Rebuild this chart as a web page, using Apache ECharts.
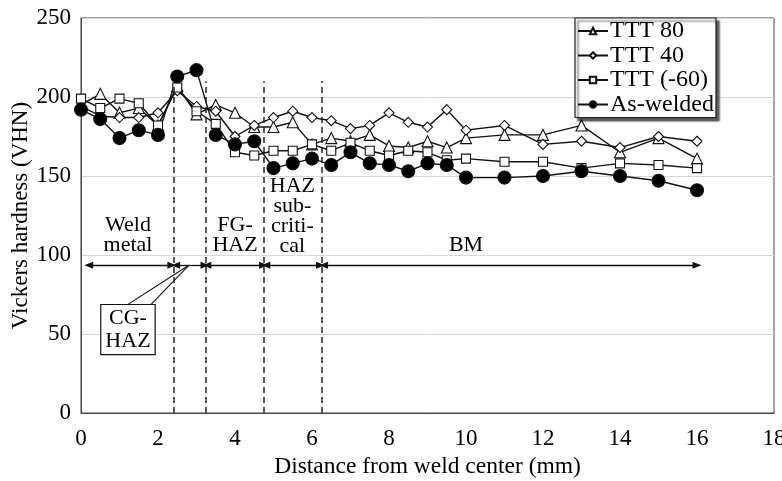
<!DOCTYPE html>
<html>
<head>
<meta charset="utf-8">
<script src="https://cdn.jsdelivr.net/npm/echarts@6/dist/echarts.min.js"></script>
<style>
  html, body { margin: 0; padding: 0; background: #fff; }
  #chart { width: 782px; height: 481px; }
</style>
</head>
<body>
<div id="chart"></div>
<script>
// Distance from the weld center (mm)
const distance = [0, 0.5, 1, 1.5, 2, 2.5, 3, 3.5, 4, 4.5, 5, 5.5, 6, 6.5, 7, 7.5, 8, 8.5, 9, 9.5, 10, 11, 12, 13, 14, 15, 16];

// Vickers hardness (VHN) per condition
const ttt80    = [195, 202, 190, 193, 182, 207, 189, 195, 190, 181, 181, 184, 170, 174, 172, 176, 169, 168, 172, 168, 174, 176, 176, 182, 165, 174, 161];
const ttt40    = [194, 188, 187, 187, 190, 204, 194, 191, 175, 182, 187, 191, 187, 185, 180, 182, 190, 184, 181, 192, 179, 182, 170, 172, 168, 175, 172];
const tttM60   = [199, 193, 199, 196, 182, 206, 191, 183, 165, 163, 166, 166, 170, 166, 171, 166, 163, 166, 165, 160, 161, 159, 159, 155, 158, 157, 155];
const asWelded = [192, 186, 174, 179, 176, 213, 217, 176, 170, 172, 155, 158, 161, 157, 165, 158, 157, 153, 158, 157, 149, 149, 150, 153, 150, 147, 141];

const seriesNames = ['TTT 80', 'TTT 40', 'TTT (-60)', 'As-welded'];

// Zone boundaries (mm) and the extent of the dashed separators
const zoneBounds = [2.4, 3.25, 4.75, 6.25];
const boundTop = 210;

// Double-headed arrows spanning each zone
const arrowLevel = 93.5;
const arrowSpans = [[0.2, 2.36], [2.46, 3.22], [3.27, 4.74], [4.8, 6.22], [6.3, 16]];

// Zone captions: [x, y, text]
const zoneLabels = [
  [1.22, 112.5, 'Weld\nmetal'],
  [4.0, 112.5, 'FG-\nHAZ'],
  [5.49, 124.5, 'HAZ\nsub-\ncriti-\ncal'],
  [10.0, 106.5, 'BM']
];
const cgLabel = [1.22, 52.8, 'CG-\nHAZ'];
const cgLeader = { tip: [2.8, 93.5], base: [[1.14, 67.5], [1.77, 67.5]] };

const FONT = "'Liberation Serif', 'Times New Roman', serif";
const pairs = ys => distance.map((x, i) => [x, ys[i]]);

function lineSeries(name, ys, symbol, size, fill) {
  return {
    name, type: 'line', data: pairs(ys),
    symbol, symbolSize: size,
    lineStyle: { color: '#111', width: 1.4 },
    itemStyle: { color: fill, borderColor: '#111', borderWidth: 1.1 },
    emphasis: { disabled: true },
    z: 3
  };
}

const chart = echarts.init(document.getElementById('chart'), null, { renderer: 'canvas' });

chart.setOption({
  animation: false,
  backgroundColor: '#fff',
  textStyle: { fontFamily: FONT },
  grid: {
    left: 81, right: 8, top: 18, bottom: 68,
    outerBoundsMode: 'none', containLabel: false,
    show: true, borderColor: '#444', borderWidth: 1
  },
  legend: {
    data: seriesNames,
    orient: 'vertical',
    left: 575, top: 18,
    padding: [1, 2, 1, 2],
    itemGap: 0.5,
    itemWidth: 30, itemHeight: 8,
    backgroundColor: '#fff',
    borderColor: '#222', borderWidth: 1.2,
    shadowColor: 'rgba(0,0,0,0.65)', shadowBlur: 2, shadowOffsetX: 3, shadowOffsetY: 3,
    textStyle: { fontFamily: FONT, fontSize: 24, color: '#000', padding: [0, 0, 0, -3] }
  },
  xAxis: {
    type: 'value', min: 0, max: 18, interval: 2,
    name: 'Distance from weld center (mm)',
    nameLocation: 'middle', nameGap: 42, nameMoveOverlap: false,
    nameTextStyle: { fontFamily: FONT, fontSize: 23.5, color: '#000' },
    axisLine: { lineStyle: { color: '#444', width: 1 } },
    axisTick: { show: false },
    axisLabel: { fontFamily: FONT, fontSize: 23, color: '#000', margin: 14 },
    splitLine: { show: false }
  },
  yAxis: {
    type: 'value', min: 0, max: 250, interval: 50,
    name: 'Vickers hardness (VHN)',
    nameLocation: 'middle', nameGap: 49, nameMoveOverlap: false,
    nameTextStyle: { fontFamily: FONT, fontSize: 23, color: '#000' },
    axisLine: { show: true, lineStyle: { color: '#444', width: 1 } },
    axisTick: { show: false },
    axisLabel: { fontFamily: FONT, fontSize: 23, color: '#000', margin: 10 },
    splitLine: { show: true, lineStyle: { color: '#d6d6d6', width: 1 } }
  },
  series: [
    {
      // Zone separators
      name: 'zones', type: 'line', data: [], silent: true, z: 2,
      markLine: {
        silent: true, symbol: ['none', 'none'],
        label: { show: false },
        lineStyle: { color: '#222', type: [6, 4], width: 1.5 },
        data: zoneBounds.map(b => [{ coord: [b, 0] }, { coord: [b, boundTop] }])
      }
    },
    {
      // Zone extents
      name: 'arrows', type: 'line', data: [], silent: true, z: 2,
      markLine: {
        silent: true, symbol: ['triangle', 'triangle'], symbolSize: [7, 9],
        label: { show: false },
        lineStyle: { color: '#111', type: 'solid', width: 1.3 },
        data: arrowSpans.map(s => [{ coord: [s[0], arrowLevel] }, { coord: [s[1], arrowLevel] }])
      }
    },
    {
      // Callout wedge for the coarse-grained HAZ
      name: 'leader', type: 'line', data: [], silent: true, z: 2,
      markLine: {
        silent: true, symbol: ['none', 'none'],
        label: { show: false },
        lineStyle: { color: '#111', type: 'solid', width: 1.1 },
        data: cgLeader.base.map(b => [{ coord: b }, { coord: cgLeader.tip }])
      }
    },
    {
      // Zone captions
      name: 'captions', type: 'line', data: [], silent: true, z: 4,
      markPoint: {
        silent: true, symbol: 'circle', symbolSize: 1,
        itemStyle: { color: 'rgba(0,0,0,0)' },
        label: {
          show: true, position: 'inside', color: '#000',
          fontFamily: FONT, fontSize: 22, lineHeight: 20, align: 'center', verticalAlign: 'middle'
        },
        data: zoneLabels.map(l => ({ coord: [l[0], l[1]], value: l[2], label: { formatter: l[2] } })).concat([{
          coord: [cgLabel[0], cgLabel[1]], value: cgLabel[2],
          label: {
            formatter: cgLabel[2], lineHeight: 23,
            backgroundColor: '#fff', borderColor: '#111', borderWidth: 1.2,
            padding: [2, 4, 1, 4]
          }
        }])
      }
    },
    lineSeries(seriesNames[0], ttt80, 'triangle', 11, '#fff'),
    lineSeries(seriesNames[1], ttt40, 'diamond', 10, '#fff'),
    lineSeries(seriesNames[2], tttM60, 'rect', 9, '#fff'),
    lineSeries(seriesNames[3], asWelded, 'circle', 13, '#000')
  ]
});
</script>
</body>
</html>
